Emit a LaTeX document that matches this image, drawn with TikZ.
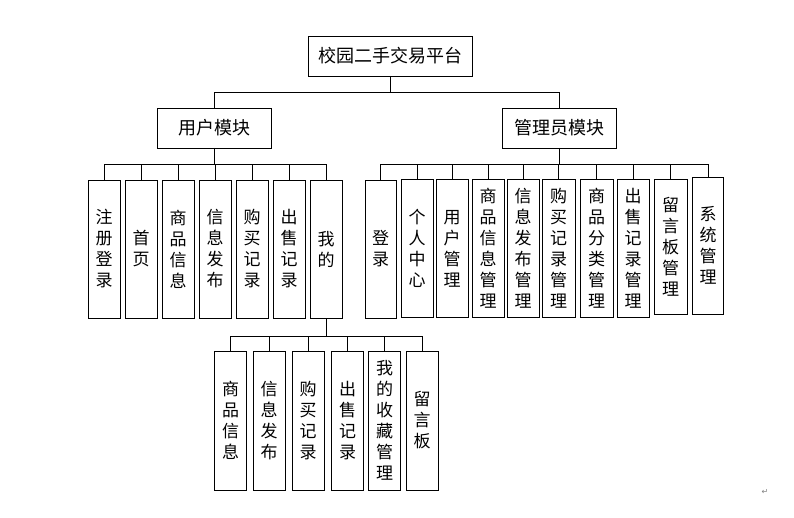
\documentclass[tikz,border=0pt]{standalone}
\usepackage{fontspec}
\newfontfamily\cjk{Noto Sans CJK SC}
\newfontfamily\symfont{DejaVu Sans}
\usetikzlibrary{positioning}

\begin{document}
\begin{tikzpicture}[
        x=1pt, y=-1pt,
        every node/.style={draw, line width=0.9pt, inner sep=0, outer sep=0, font=\cjk\fontsize{17}{21}\selectfont},
        topbox/.style={minimum width=164, minimum height=40, font=\cjk\fontsize{18}{21}\selectfont},
        module/.style={minimum width=114, minimum height=40, font=\cjk\fontsize{18}{21}\selectfont},
        leaf/.style={minimum width=32, minimum height=138, align=center},
        link/.style={line width=0.8pt},
    ]
        \useasboundingbox (0,0) rectangle (794,518);

        \node [topbox] (root) at (390,56) {校园二手交易平台};
        \node [module] (user) at (214.5,128) {用户模块};
        \node [module] (admin) at (559.5,128) {管理员模块};

        % user module
        \node [leaf] (u1) at (104,249) {注\\册\\登\\录};
        \node [leaf, right=5pt of u1] (u2) {首\\页};
        \node [leaf, right=5pt of u2] (u3) {商\\品\\信\\息};
        \node [leaf, right=5pt of u3] (u4) {信\\息\\发\\布};
        \node [leaf, right=5pt of u4] (u5) {购\\买\\记\\录};
        \node [leaf, right=5pt of u5] (u6) {出\\售\\记\\录};
        \node [leaf, right=5pt of u6] (u7) {我\\的};

        % my page
        \node [leaf, minimum height=139] (m1) at (230.5,420.5) {商\\品\\信\\息};
        \node [leaf, minimum height=139] (m2) at (269,420.5) {信\\息\\发\\布};
        \node [leaf, minimum height=139] (m3) at (308,420.5) {购\\买\\记\\录};
        \node [leaf, minimum height=139] (m4) at (347.5,420.5) {出\\售\\记\\录};
        \node [leaf, minimum height=139] (m5) at (384.5,420.5) {我\\的\\收\\藏\\管\\理};
        \node [leaf, minimum height=139] (m6) at (422,420.5) {留\\言\\板};

        % admin module
        \node [leaf, minimum width=31] (a1) at (380.5,249) {登\\录};
        \node [leaf] (a2) at (417,248.5) {个\\人\\中\\心};
        \node [leaf] (a3) at (452,248.5) {用\\户\\管\\理};
        \node [leaf] (a4) at (488,248.5) {商\\品\\信\\息\\管\\理};
        \node [leaf] (a5) at (523,248.5) {信\\息\\发\\布\\管\\理};
        \node [leaf, minimum width=33] (a6) at (558.5,248.5) {购\\买\\记\\录\\管\\理};
        \node [leaf, minimum width=33] (a7) at (596.5,248.5) {商\\品\\分\\类\\管\\理};
        \node [leaf] (a8) at (633,248.5) {出\\售\\记\\录\\管\\理};
        \node [leaf, minimum width=33, minimum height=135] (a9) at (670.5,246.5) {留\\言\\板\\管\\理};
        \node [leaf, minimum width=31, minimum height=137] (a10) at (708,245.5) {系\\统\\管\\理};

        \node [draw=none, font=\symfont\fontsize{8}{8}\selectfont, text=gray] (pmark) at (765,492) {↵};

        \draw [link] (root.south) -- ++(0,16) -| (user.north)
                     (root.south) -- ++(0,16) -| (admin.north);
        \draw [link] (user.south) -- ++(0,16) -| (u1.north)
                     (user.south) -- ++(0,16) -| (u2.north)
                     (user.south) -- ++(0,16) -| (u3.north)
                     (user.south) -- ++(0,16) -| (u4.north)
                     (user.south) -- ++(0,16) -| (u5.north)
                     (user.south) -- ++(0,16) -| (u6.north)
                     (user.south) -- ++(0,16) -| (u7.north);
        \draw [link] (u7.south) -- ++(0,18) -| (m1.north)
                     (u7.south) -- ++(0,18) -| (m2.north)
                     (u7.south) -- ++(0,18) -| (m3.north)
                     (u7.south) -- ++(0,18) -| (m4.north)
                     (u7.south) -- ++(0,18) -| (m5.north)
                     (u7.south) -- ++(0,18) -| (m6.north);
        \draw [link] (admin.south) -- ++(0,16) -| (a1.north)
                     (admin.south) -- ++(0,16) -| (a2.north)
                     (admin.south) -- ++(0,16) -| (a3.north)
                     (admin.south) -- ++(0,16) -| (a4.north)
                     (admin.south) -- ++(0,16) -| (a5.north)
                     (admin.south) -- ++(0,16) -| (a6.north)
                     (admin.south) -- ++(0,16) -| (a7.north)
                     (admin.south) -- ++(0,16) -| (a8.north)
                     (admin.south) -- ++(0,16) -| (a9.north)
                     (admin.south) -- ++(0,16) -| (a10.north);
    \end{tikzpicture}
\end{document}
